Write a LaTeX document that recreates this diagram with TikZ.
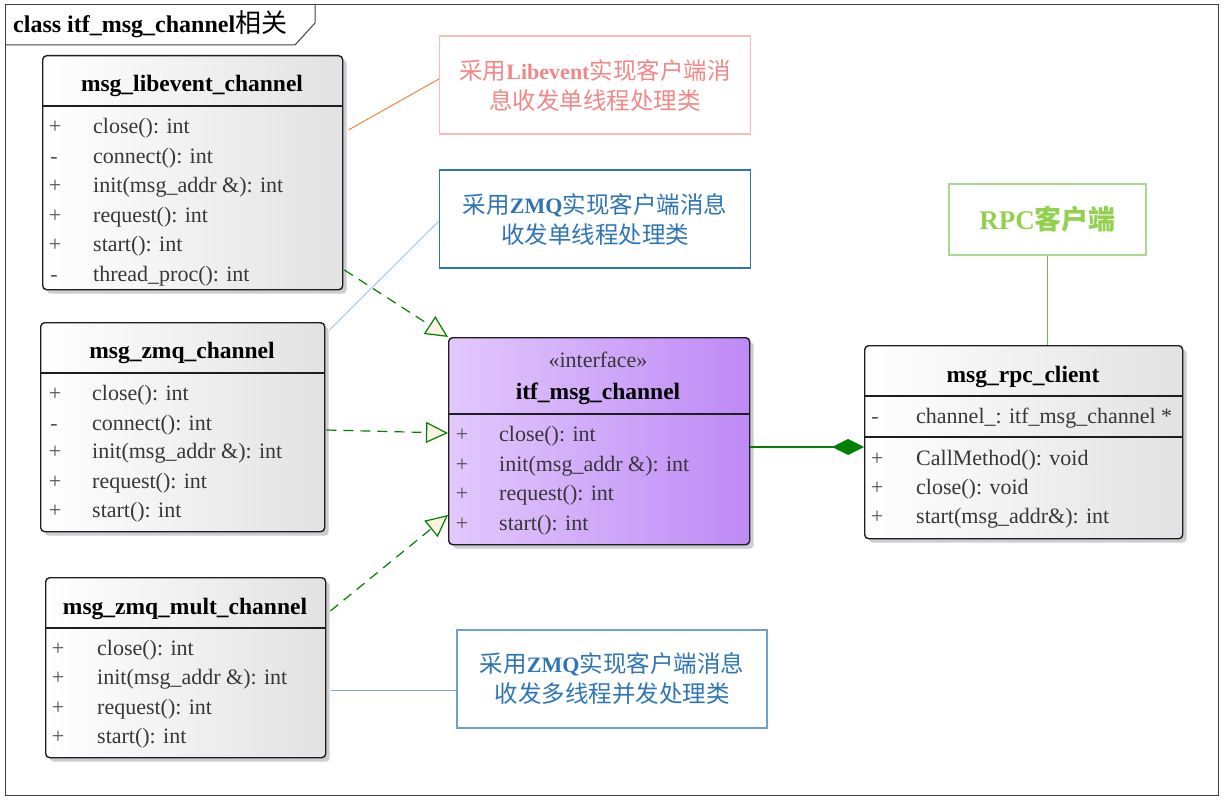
\documentclass[tikz,border=0pt]{standalone}
\usepackage{fontspec}
\setmainfont{Liberation Serif}
\newfontfamily\cjk{Noto Sans CJK SC}
\usetikzlibrary{arrows.meta,shadows}
\definecolor{boxline}{RGB}{30,30,30}
\definecolor{boxgray}{RGB}{226,226,226}
\definecolor{shadowgray}{RGB}{205,205,210}
\definecolor{purpleL}{RGB}{226,200,252}
\definecolor{purpleR}{RGB}{190,138,246}
\definecolor{rowtext}{RGB}{55,55,55}
\definecolor{marktext}{RGB}{80,80,80}
\definecolor{umlgreen}{RGB}{0,128,0}
\definecolor{tricream}{RGB}{250,243,225}
\definecolor{framecol}{RGB}{64,64,64}
\definecolor{pinkborder}{RGB}{255,185,185}
\definecolor{pinktext}{RGB}{242,135,135}
\definecolor{bluenote}{RGB}{46,117,182}
\definecolor{bluenoteB}{RGB}{110,160,213}
\definecolor{greenborder}{RGB}{169,217,142}
\definecolor{greentext}{RGB}{146,208,80}
\definecolor{orangelink}{RGB}{237,125,49}
\definecolor{bluelink}{RGB}{157,195,230}
\definecolor{bluelinkB}{RGB}{130,165,215}
\definecolor{greenlink}{RGB}{120,180,90}
\newcommand\crow[6]{%
  \node[markst] (#1m) at (#2,{#4+6}) {#5};
  \node[rowst] (#1t) at (#3,{#4+6}) {#6};}
\begin{document}
\begin{tikzpicture}[x=1pt,y=-1pt,
  classbox/.style={draw=boxline, line width=1.4pt, rounded corners=4pt,
    left color=white, right color=boxgray, anchor=north west, inner sep=0pt,
    drop shadow={shadow xshift=4pt, shadow yshift=-4pt, fill=shadowgray, opacity=1}},
  ifacebox/.style={classbox, left color=purpleL, right color=purpleR},
  divider/.style={draw=boxline, line width=1.4pt},
  rowst/.style={anchor=base west, inner sep=0pt, text=rowtext, font=\fontsize{22}{26}\selectfont},
  markst/.style={anchor=base, inner sep=0pt, text=marktext, font=\fontsize{22}{26}\selectfont},
  ctitle/.style={anchor=base, inner sep=0pt, text=black, font=\bfseries\fontsize{23.5}{28}\selectfont},
  note/.style={line width=1.2pt, inner sep=0pt, align=center, font=\fontsize{22}{30}\selectfont},
  cj/.style={},
  realize/.style={draw=umlgreen, line width=1.2pt, dash pattern=on 10pt off 7pt,
    -{Triangle[open, length=22pt, width=21pt, fill=tricream]}},
  comp/.style={draw=umlgreen, line width=1.4pt, -{Diamond[length=32pt, width=16pt, fill=umlgreen]}},
  link/.style={line width=0.9pt}]
\useasboundingbox (0,0) rectangle (1224,800);
% frame
\draw[framecol, line width=1pt] (5,5) rectangle (1218,795);
\draw[framecol, line width=1pt] (5,45) -- (295,45) -- (315,23) -- (315,5);
\node[anchor=base west, inner sep=0pt, font=\bfseries\fontsize{24}{28}\selectfont] (ftitle) at (13,33) {class itf\_msg\_channel{\cjk\mdseries\fontsize{26}{28}\selectfont 相关}};

% msg_libevent_channel
\node[classbox, minimum width=300pt, minimum height=234pt] (lib) at (42,55) {};
\draw[divider] (lib.west |- 0,106) -- (lib.east |- 0,106);
\node[ctitle] (libn) at (192,92) {msg\_libevent\_channel};
\crow{libA}{55}{93}{127}{+}{close(): int}
\crow{libB}{54}{93}{157}{-}{connect(): int}
\crow{libC}{55}{93}{186}{+}{init(msg\_addr \&): int}
\crow{libD}{55}{93}{216}{+}{request(): int}
\crow{libE}{55}{93}{245}{+}{start(): int}
\crow{libF}{54}{93}{275}{-}{thread\_proc(): int}

% msg_zmq_channel
\node[classbox, minimum width=284pt, minimum height=209pt] (zmq) at (40,322) {};
\draw[divider] (zmq.west |- 0,373) -- (zmq.east |- 0,373);
\node[ctitle] (zmqn) at (182,358) {msg\_zmq\_channel};
\crow{zmqA}{55}{92}{394}{+}{close(): int}
\crow{zmqB}{54}{92}{424}{-}{connect(): int}
\crow{zmqC}{55}{92}{452}{+}{init(msg\_addr \&): int}
\crow{zmqD}{55}{92}{482}{+}{request(): int}
\crow{zmqE}{55}{92}{511}{+}{start(): int}

% msg_zmq_mult_channel
\node[classbox, minimum width=280pt, minimum height=180pt] (mult) at (45,577) {};
\draw[divider] (mult.west |- 0,628) -- (mult.east |- 0,628);
\node[ctitle] (multn) at (185,614) {msg\_zmq\_mult\_channel};
\crow{multA}{58}{97}{649}{+}{close(): int}
\crow{multB}{58}{97}{678}{+}{init(msg\_addr \&): int}
\crow{multC}{58}{97}{708}{+}{request(): int}
\crow{multD}{58}{97}{737}{+}{start(): int}

% itf_msg_channel
\node[ifacebox, minimum width=301pt, minimum height=207pt] (itf) at (448,337) {};
\draw[divider] (itf.west |- 0,414) -- (itf.east |- 0,414);
\node[anchor=base, inner sep=0pt, text=rowtext, font=\fontsize{22}{26}\selectfont] (itfs) at (598,367) {«interface»};
\node[ctitle] (itfn) at (598,399) {itf\_msg\_channel};
\crow{itfA}{462}{499}{435}{+}{close(): int}
\crow{itfB}{462}{499}{465}{+}{init(msg\_addr \&): int}
\crow{itfC}{462}{499}{494}{+}{request(): int}
\crow{itfD}{462}{499}{524}{+}{start(): int}

% msg_rpc_client
\node[classbox, minimum width=318pt, minimum height=193pt] (rpc) at (864,345) {};
\draw[divider] (rpc.west |- 0,396) -- (rpc.east |- 0,396);
\draw[divider] (rpc.west |- 0,437) -- (rpc.east |- 0,437);
\node[ctitle] (rpcn) at (1023,382) {msg\_rpc\_client};
\crow{rpcA}{875}{916}{417}{-}{channel\_: itf\_msg\_channel *}
\crow{rpcB}{877}{916}{459}{+}{CallMethod(): void}
\crow{rpcC}{877}{916}{488}{+}{close(): void}
\crow{rpcD}{877}{916}{517}{+}{start(msg\_addr\&): int}

% notes
\node[note, draw=pinkborder, text=pinktext, minimum width=311pt, minimum height=98pt] (n1) at (595,85)
  {{\cjk\fontsize{23.5}{30}\selectfont 采用}\textbf{Libevent}{\cjk\fontsize{23.5}{30}\selectfont 实现客户端消}\\{\cjk\fontsize{23.5}{30}\selectfont 息收发单线程处理类}};
\node[note, draw=bluenote, text=bluenote, minimum width=311pt, minimum height=98pt] (n2) at (595,219)
  {{\cjk\fontsize{23.5}{30}\selectfont 采用}\textbf{ZMQ}{\cjk\fontsize{23.5}{30}\selectfont 实现客户端消息}\\{\cjk\fontsize{23.5}{30}\selectfont 收发单线程处理类}};
\node[note, draw=greenborder, text=greentext, minimum width=197pt, minimum height=71pt, font=\fontsize{27}{30}\selectfont] (n3) at (1047.5,219.5)
  {\textbf{RPC}{\cjk\bfseries 客户端}};
\node[note, draw=bluenoteB, text=bluenote, minimum width=310pt, minimum height=98pt] (n4) at (612,679)
  {{\cjk\fontsize{23.5}{30}\selectfont 采用}\textbf{ZMQ}{\cjk\fontsize{23.5}{30}\selectfont 实现客户端消息}\\{\cjk\fontsize{23.5}{30}\selectfont 收发多线程并发处理类}};

% note links
\draw[link, orangelink] ([xshift=5pt]lib.east |- 0,130) -- (n1.west |- 0,79);
\draw[link, bluelink] ([xshift=4pt,yshift=-8pt]zmq.north east) -- (n2.west |- 0,221);
\draw[link, greenlink] (n3.south) -- (n3.south |- rpc.north);
\draw[link, bluelinkB] ([xshift=5pt]mult.east |- 0,690) -- (n4.west |- 0,690);

% realizations
\draw[realize] ([xshift=1pt]lib.east |- 0,270) -- (itf.north west);
\draw[realize] ([xshift=1pt]zmq.east |- 0,430) -- (itf.west |- 0,433);
\draw[realize] ([xshift=4pt]mult.east |- 0,611) -- (itf.west |- 0,515);

% composition
\draw[comp] (itf.east |- 0,447) -- (rpc.west |- 0,447);
\end{tikzpicture}
\end{document}
